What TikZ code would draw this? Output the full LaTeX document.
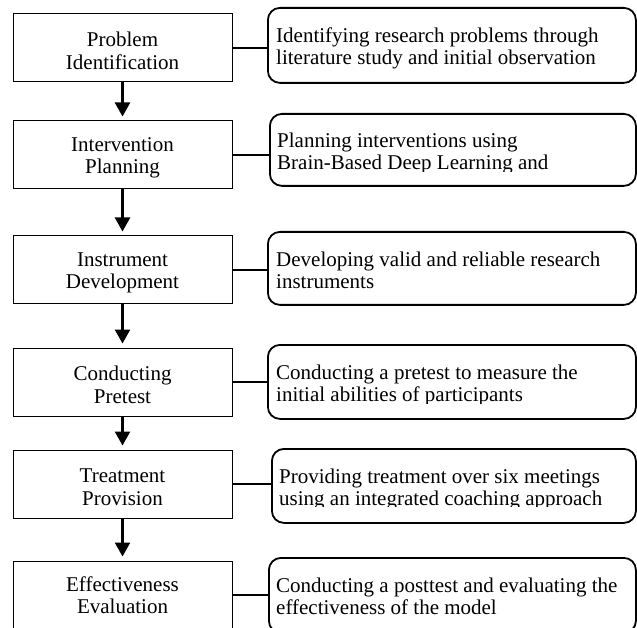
\documentclass[tikz,border=0pt]{standalone}
\usepackage{fontspec}
\setmainfont{Liberation Serif}
\usetikzlibrary{arrows.meta}
\tikzset{
  lbox/.style={draw, line width=1pt, rectangle, minimum width=219pt, minimum height=68pt, inner sep=0pt},
  ltext/.style={inner sep=0pt, align=center, font=\fontsize{21}{22.5}\selectfont},
  rbox/.style={draw, line width=1.8pt, rectangle, rounded corners=12pt, anchor=north west, inner sep=0pt},
  rtext/.style={anchor=north west, inner sep=0pt, align=left, font=\fontsize{21}{22.5}\selectfont},
  link/.style={line width=1.3pt},
  flow/.style={line width=2.4pt, -{Triangle[width=15pt,length=14pt]}, shorten >=4pt}
}
\begin{document}
\begin{tikzpicture}[x=1pt, y=-1pt]
\useasboundingbox (0,0) rectangle (637,628);
% left boxes
\node[lbox] (l1) at (122.5,48) {};
\node[lbox] (l2) at (122.5,155) {};
\node[lbox] (l3) at (122.5,270) {};
\node[lbox] (l4) at (122.5,382) {};
\node[lbox] (l5) at (122.5,484) {};
\node[lbox] (l6) at (122.5,595) {};
\node[ltext] (lt1) at ([yshift=-3pt]l1.center) {Problem\\Identification};
\node[ltext] (lt2) at ([yshift=-3pt]l2.center) {Intervention\\Planning};
\node[ltext] (lt3) at ([yshift=-3pt]l3.center) {Instrument\\Development};
\node[ltext] (lt4) at ([yshift=-3pt]l4.center) {Conducting\\Pretest};
\node[ltext] (lt5) at ([yshift=-3pt]l5.center) {Treatment\\Provision};
\node[ltext] (lt6) at ([yshift=0pt]l6.center) {Effectiveness\\Evaluation};
% right boxes
\node[rbox, minimum width=368pt, minimum height=75pt] (r1) at (267,7) {};
\node[rbox, minimum width=366pt, minimum height=72pt] (r2) at (269,113) {};
\node[rbox, minimum width=368pt, minimum height=73pt] (r3) at (267,231) {};
\node[rbox, minimum width=368pt, minimum height=74pt] (r4) at (267,344) {};
\node[rbox, minimum width=364pt, minimum height=74pt] (r5) at (271,448) {};
\node[rbox, minimum width=367pt, minimum height=75pt] (r6) at (268,557) {};
% texts
\node[rtext] (t1) at (276,27.5) {Identifying research problems through\\literature study and initial observation};
\begin{scope}
\clip (269,113) rectangle (635,171.5);
\node[rtext] (t2) at (277,132.5) {Planning interventions using\\Brain-Based Deep Learning and};
\end{scope}
\node[rtext] (t3) at (276,251.5) {Developing valid and reliable research\\instruments};
\begin{scope}
\clip (267,344) rectangle (635,403.5);
\node[rtext] (t4) at (276,364.5) {Conducting a pretest to measure the\\initial abilities of participants};
\end{scope}
\begin{scope}
\clip (271,448) rectangle (635,506.5);
\node[rtext] (t5) at (279,468.5) {Providing treatment over six meetings\\using an integrated coaching approach};
\end{scope}
\node[rtext] (t6) at (276,577.5) {Conducting a posttest and evaluating the\\effectiveness of the model};
% connectors
\foreach \i in {1,...,6} {
  \draw[link] (l\i.east) -- (l\i.east -| r\i.west);
}
% arrows
\draw[flow] (l1.south) -- (l2.north);
\draw[flow] (l2.south) -- (l3.north);
\draw[flow] (l3.south) -- (l4.north);
\draw[flow] (l4.south) -- (l5.north);
\draw[flow] (l5.south) -- (l6.north);
\end{tikzpicture}
\end{document}
